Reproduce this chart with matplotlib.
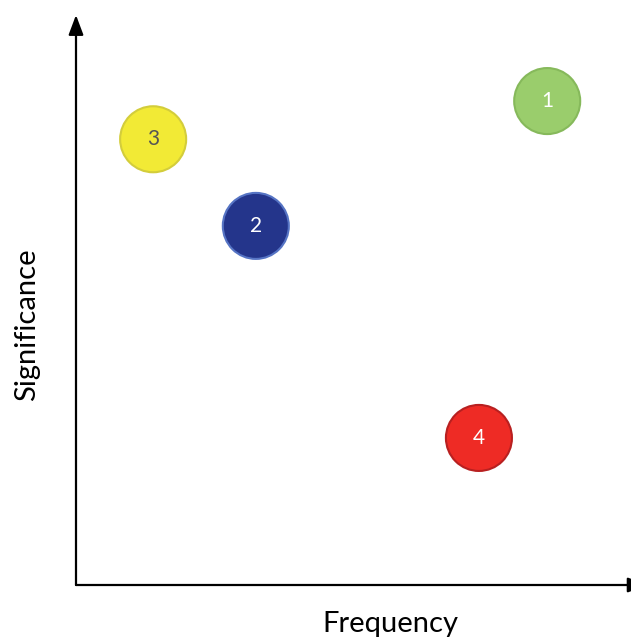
import numpy as np
import matplotlib
matplotlib.use("Agg")
import matplotlib.pyplot as plt

# bubble data (frequency, significance)
labels = ["1", "2", "3", "4"]
freq = [8.49, 3.24, 1.39, 7.26]
signif = [8.49, 6.30, 7.82, 2.58]
fill = ["#9ACD6C", "#24358B", "#F2EA35", "#EE2B25"]
edge = ["#86B95B", "#5674C4", "#D3CD3B", "#B82020"]
txt = ["white", "white", "#555555", "white"]

fig = plt.figure(figsize=(6.31, 6.39), dpi=100)
W, H = 631, 639
x0, y0, x1, y1 = 76, 585, 631, 15
ax = fig.add_axes([x0 / W, 1 - y0 / H, (x1 - x0) / W, (y0 - y1) / H])
ax.set_xlim(0, 10)
ax.set_ylim(0, 10)
ax.axis("off")

# axis arrows
ax.annotate("", xy=(0, 10), xytext=(0, 0),
            arrowprops=dict(arrowstyle="-|>,head_length=1.2,head_width=0.45",
                            lw=1.6, color="black", shrinkA=0, shrinkB=0),
            annotation_clip=False)
ax.annotate("", xy=(10.3, 0), xytext=(0, 0),
            arrowprops=dict(arrowstyle="-|>,head_length=1.2,head_width=0.45",
                            lw=1.6, color="black", shrinkA=0, shrinkB=0),
            annotation_clip=False)

ax.scatter(freq, signif, s=2260, c=fill, edgecolors=edge, linewidths=1.5,
           zorder=3, clip_on=False)
for xf, ys, lab, tc in zip(freq, signif, labels, txt):
    ax.text(xf, ys, lab, ha="center", va="center", color=tc, fontsize=15,
            family="Lato", zorder=4)

fig.text(390 / W, 1 - 624 / H, "Frequency", ha="center", va="center",
         fontsize=21, family="Lato")
fig.text(27 / W, 1 - 325 / H, "Significance", ha="center", va="center",
         rotation=90, fontsize=21, family="Lato")

fig.savefig("out.png", dpi=100)
